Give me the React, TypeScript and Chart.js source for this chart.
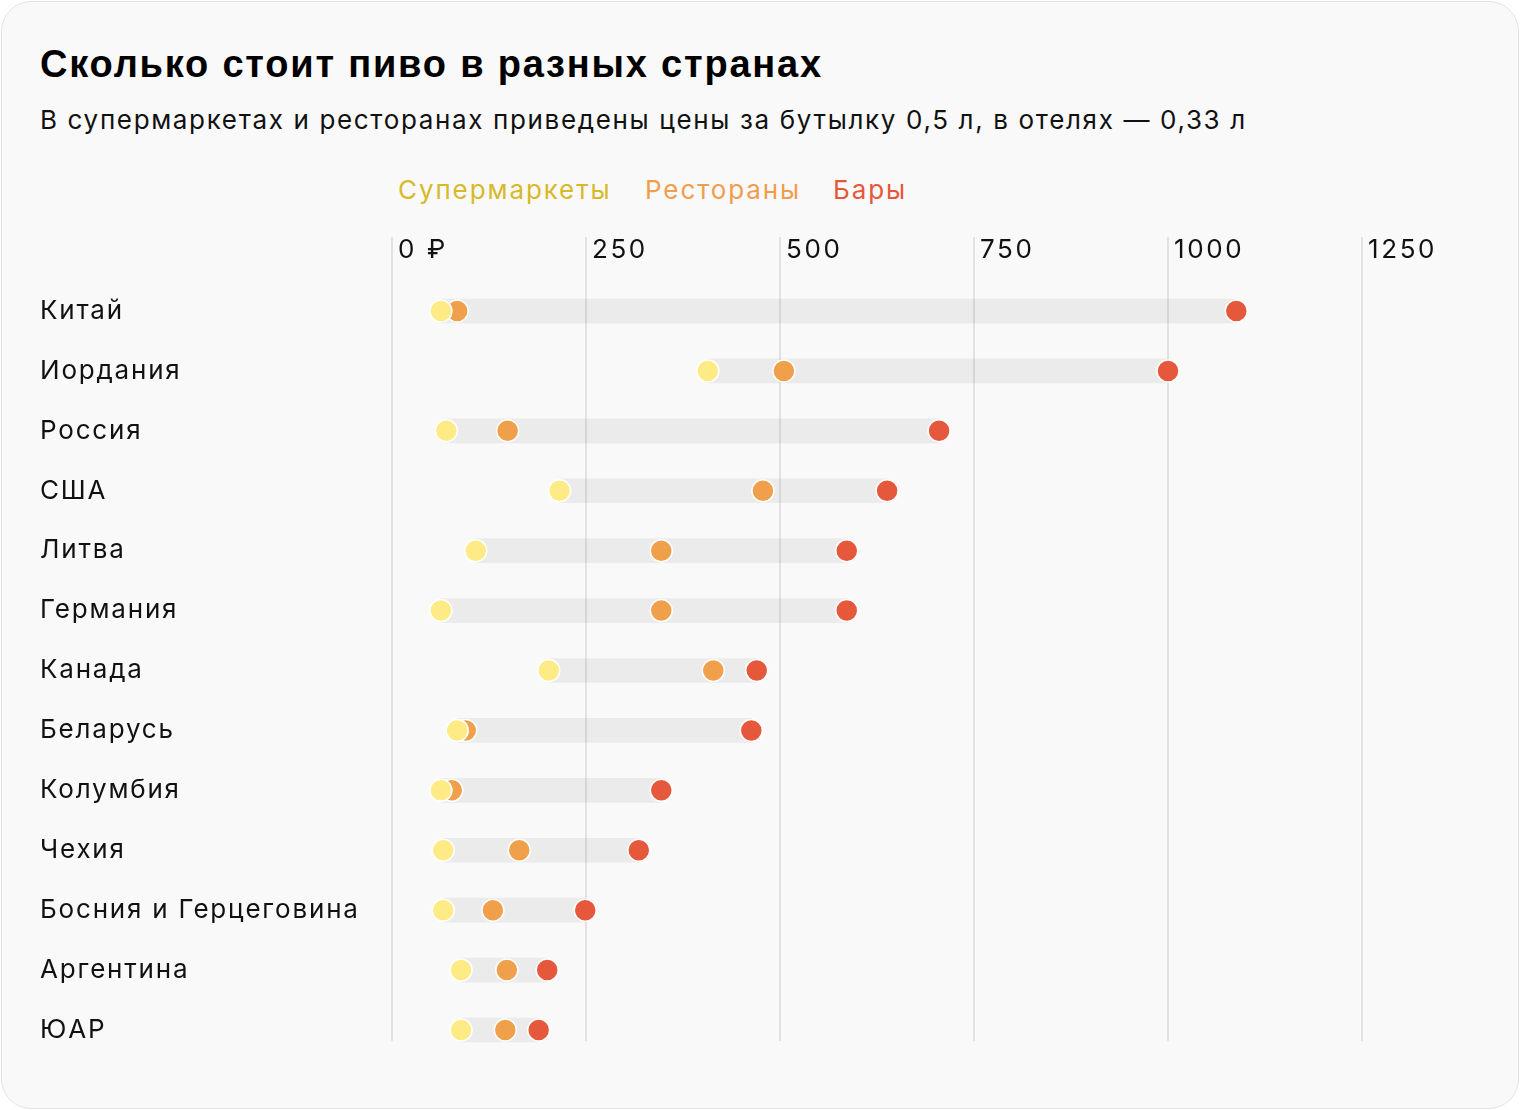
import React, { useEffect, useRef } from "react";
import { Chart, registerables } from "chart.js";

Chart.register(...registerables);

const categories = [
  "Китай",
  "Иордания",
  "Россия",
  "США",
  "Литва",
  "Германия",
  "Канада",
  "Беларусь",
  "Колумбия",
  "Чехия",
  "Босния и Герцеговина",
  "Аргентина",
  "ЮАР",
];
const supermarkets = [63, 407, 70, 216, 108, 63, 202, 84, 63, 66, 66, 89, 89];
const restaurants = [84, 505, 149, 478, 347, 347, 414, 95, 77, 164, 130, 148, 146];
const barsPrices = [1088, 1000, 705, 638, 586, 586, 470, 463, 347, 318, 249, 200, 189];
const xTicks = [0, 250, 500, 750, 1000, 1250];
const xTickLabels = ["0 ₽", "250", "500", "750", "1000", "1250"];

const FONT = "Inter, 'Noto Sans', sans-serif";
const TITLE_FONT = "'Liberation Sans', Arial, sans-serif";
const COL_SUPER = "#ffeb85";
const COL_REST = "#f0a04b";
const COL_BAR = "#e5583b";

export default function App() {
  const canvasRef = useRef<HTMLCanvasElement | null>(null);

  useEffect(() => {
    const canvas = canvasRef.current;
    if (!canvas) return;

    const spacingPlugin = {
      id: "spacing",
      beforeDraw(chart: any) {
        (chart.ctx as any).letterSpacing = "1.8px";
      },
    };

    const gridPlugin = {
      id: "gridAndTicks",
      afterDatasetDraw(chart: any, args: any) {
        if (args.index !== 0) return;
        const ctx = chart.ctx;
        const xs = chart.scales.x;
        ctx.save();
        ctx.strokeStyle = "rgba(0,0,0,0.09)";
        ctx.lineWidth = 2;
        xTicks.forEach((v) => {
          const x = Math.round(xs.getPixelForValue(v));
          ctx.beginPath();
          ctx.moveTo(x, 237);
          ctx.lineTo(x, 1041);
          ctx.stroke();
        });
        ctx.fillStyle = "#111111";
        ctx.font = `26px ${FONT}`;
        (ctx as any).letterSpacing = "2.6px";
        ctx.textAlign = "left";
        ctx.textBaseline = "middle";
        xTicks.forEach((v, i) => {
          const x = xs.getPixelForValue(v);
          ctx.fillText(xTickLabels[i], x + 6, 250);
        });
        ctx.restore();
      },
    };

    const pointDs = (label: string, values: number[], color: string, order: number) => ({
      type: "line" as const,
      label,
      data: values.map((v, i) => ({ x: v, y: categories[i] })),
      showLine: false,
      pointRadius: 11,
      pointHoverRadius: 11,
      pointBackgroundColor: color,
      pointBorderColor: "#ffffff",
      pointBorderWidth: 1.5,
      backgroundColor: color,
      borderColor: color,
      order,
      clip: false as any,
    });

    const chart = new Chart(canvas, {
      type: "bar",
      data: {
        labels: categories,
        datasets: [
          {
            type: "bar",
            label: "range",
            data: categories.map((_, i) => [
              Math.min(supermarkets[i], restaurants[i], barsPrices[i]),
              Math.max(supermarkets[i], restaurants[i], barsPrices[i]),
            ]) as any,
            backgroundColor: "#ebebeb",
            borderWidth: 0,
            borderSkipped: false,
            barThickness: 24,
            order: 10,
          } as any,
          pointDs("Супермаркеты", supermarkets, COL_SUPER, 1),
          pointDs("Рестораны", restaurants, COL_REST, 2),
          pointDs("Бары", barsPrices, COL_BAR, 3),
        ],
      },
      options: {
        indexAxis: "y",
        animation: false,
        responsive: false,
        maintainAspectRatio: false,
        layout: { padding: { left: 40, right: 158, top: 281, bottom: 50 } },
        plugins: {
          legend: { display: false },
          tooltip: { enabled: false },
        },
        events: [],
        scales: {
          x: {
            type: "linear",
            display: false,
            min: 0,
            max: 1250,
          },
          y: {
            type: "category",
            offset: true,
            grid: { display: false },
            border: { display: false },
            ticks: {
              crossAlign: "far",
              padding: 0,
              color: "#111111",
              font: { family: FONT, size: 26 },
            },
            afterFit(scale: any) {
              scale.width = 352;
            },
          } as any,
        },
      },
      plugins: [spacingPlugin, gridPlugin],
    });

    return () => chart.destroy();
  }, []);

  return (
    <div
      style={{
        position: "absolute",
        left: 0,
        top: 0,
        width: 1520,
        height: 1110,
        background: "#ffffff",
        fontFamily: FONT,
      }}
    >
      <div
        style={{
          position: "absolute",
          left: 1,
          top: 1,
          width: 1518,
          height: 1108,
          boxSizing: "border-box",
          border: "1px solid #e4e4e4",
          borderRadius: 30,
          background: "#f9f9f9",
        }}
      />
      <div
        style={{
          position: "absolute",
          left: 40,
          top: 40,
          fontFamily: TITLE_FONT,
          fontSize: 38,
          fontWeight: 700,
          letterSpacing: "1.8px",
          color: "#000",
          lineHeight: "48px",
          whiteSpace: "nowrap",
        }}
      >
        Сколько стоит пиво в разных странах
      </div>
      <div
        style={{
          position: "absolute",
          left: 40,
          top: 102,
          fontSize: 26,
          letterSpacing: "1.65px",
          color: "#111",
          lineHeight: "36px",
          whiteSpace: "nowrap",
        }}
      >
        В супермаркетах и ресторанах приведены цены за бутылку 0,5 л, в отелях — 0,33 л
      </div>
      <div
        style={{
          position: "absolute",
          left: 398,
          top: 172,
          fontSize: 26,
          letterSpacing: "1.9px",
          lineHeight: "36px",
          whiteSpace: "nowrap",
        }}
      >
        <span style={{ color: "#d7b92a", position: "absolute", left: 0 }}>Супермаркеты</span>
        <span style={{ color: "#f19d4e", position: "absolute", left: 247 }}>Рестораны</span>
        <span style={{ color: "#e5573a", position: "absolute", left: 435 }}>Бары</span>
      </div>
      <canvas
        ref={canvasRef}
        width={1520}
        height={1110}
        style={{ position: "absolute", left: 0, top: 0, width: 1520, height: 1110 }}
      />
    </div>
  );
}
